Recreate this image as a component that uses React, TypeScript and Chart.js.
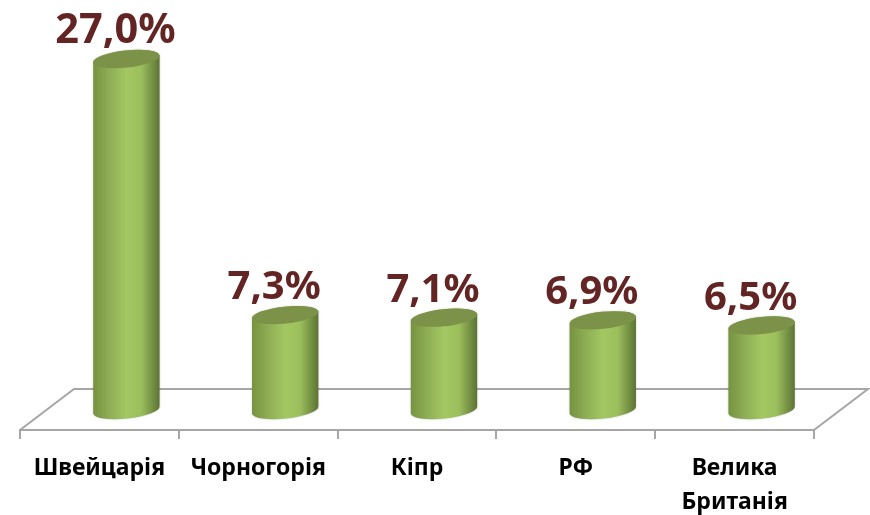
import React, { useEffect, useRef } from "react";
import { Chart, registerables } from "chart.js";

Chart.register(...registerables);

const categories: (string | string[])[] = ["Швейцарія", "Чорногорія", "Кіпр", "РФ", ["Велика", "Британія"]];
const shares = [27.0, 7.3, 7.1, 6.9, 6.5];
const labelText = ["27,0%", "7,3%", "7,1%", "6,9%", "6,5%"];

const FONT = '"Noto Sans", sans-serif';
const DX = 27;
const DY = -20;

const cylinders = {
  id: "cylinders",
  beforeDatasetsDraw(chart: any) {
    const { ctx, chartArea: a } = chart;
    ctx.save();
    ctx.strokeStyle = "#a6a6a6";
    ctx.lineWidth = 2;
    ctx.beginPath();
    ctx.moveTo(a.left, a.bottom);
    ctx.lineTo(a.left + 54, a.bottom - 41);
    ctx.lineTo(a.right + 54, a.bottom - 41);
    ctx.lineTo(a.right, a.bottom);
    ctx.stroke();
    ctx.restore();
  },
  afterDatasetsDraw(chart: any) {
    const { ctx } = chart;
    const meta = chart.getDatasetMeta(0);
    const rot = -0.105;
    meta.data.forEach((el: any, i: number) => {
      const cx = el.x + DX;
      const topY = el.y + DY;
      const botY = el.base + DY;
      const a = el.width / 2;
      const b = 8.5;
      ctx.save();
      const g = ctx.createLinearGradient(cx - a, 0, cx + a, 0);
      g.addColorStop(0, "#76923f");
      g.addColorStop(0.25, "#8fae55");
      g.addColorStop(0.5, "#a3c762");
      g.addColorStop(0.72, "#9cbf5d");
      g.addColorStop(0.9, "#738e42");
      g.addColorStop(1, "#5c7236");
      ctx.shadowColor = "rgba(0,0,0,0.25)";
      ctx.shadowBlur = 2;
      ctx.fillStyle = g;
      ctx.beginPath();
      ctx.ellipse(cx, topY, a, b, rot, Math.PI, 0, false);
      ctx.ellipse(cx, botY, a, b, rot, 0, Math.PI, false);
      ctx.closePath();
      ctx.fill();
      ctx.shadowColor = "transparent";
      ctx.fillStyle = "#7b9248";
      ctx.beginPath();
      ctx.ellipse(cx, topY, a, b, rot, 0, Math.PI * 2);
      ctx.fill();
      ctx.fillStyle = "#632523";
      ctx.font = `700 ${i === 0 ? 41.5 : 40}px ${FONT}`;
      ctx.textAlign = "center";
      ctx.textBaseline = "alphabetic";
      ctx.fillText(labelText[i], el.x + DX - 11, topY - 16);
      ctx.restore();
    });
  },
};

export default function App() {
  const ref = useRef<HTMLCanvasElement>(null);
  useEffect(() => {
    const chart = new Chart(ref.current!, {
      type: "bar",
      data: {
        labels: categories as any,
        datasets: [
          {
            data: shares,
            backgroundColor: "rgba(0,0,0,0)",
            categoryPercentage: 1,
            barPercentage: 0.42,
          },
        ],
      },
      options: {
        responsive: false,
        animation: false,
        layout: { padding: { left: 20, right: 56, top: 40, bottom: 0 } },
        plugins: { legend: { display: false }, tooltip: { enabled: false } },
        scales: {
          y: { display: false, min: 0, max: 30 },
          x: {
            afterFit(s: any) {
              s.height = 85;
            },
            border: { color: "#a6a6a6", width: 2 },
            grid: { drawOnChartArea: false, color: "#a6a6a6", lineWidth: 2, tickLength: 9, offset: true },
            ticks: {
              color: "#000000",
              maxRotation: 0,
              autoSkip: false,
              padding: 12,
              font: { family: FONT, weight: 700 as any, size: 23, lineHeight: 1.48 },
            },
          },
        },
      },
      plugins: [cylinders],
    });
    return () => chart.destroy();
  }, []);
  return (
    <div style={{ position: "absolute", left: 0, top: 0, width: 870, height: 515 }}>
      <canvas ref={ref} width={870} height={515} style={{ display: "block" }} />
    </div>
  );
}
